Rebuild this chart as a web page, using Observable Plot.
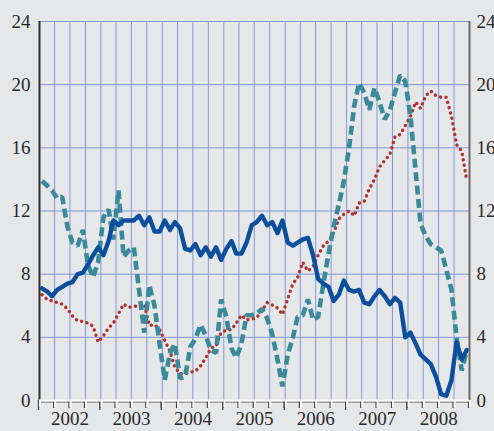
<!DOCTYPE html>
<html><head><meta charset="utf-8">
<script src="https://cdn.jsdelivr.net/npm/d3@7"></script>
<script src="https://cdn.jsdelivr.net/npm/@observablehq/plot@0.6"></script>
<style>
html,body{margin:0;padding:0;background:#e6e7e9;}
#chart{width:494px;height:431px;}
</style>
</head><body><div id="chart"></div>
<script>
// Monthly values, January 2002 – December 2008
const blueSeries = [
  7.1, 6.9, 6.6, 7.0, 7.2, 7.4, 7.5, 8.0, 8.1, 8.6, 9.2, 9.7,
  9.2, 10.1, 11.4, 11.1, 11.4, 11.4, 11.4, 11.7, 11.1, 11.6, 10.7, 10.7,
  11.4, 10.8, 11.3, 10.9, 9.6, 9.5, 9.9, 9.2, 9.7, 9.1, 9.7, 8.9,
  9.6, 10.1, 9.3, 9.3, 10.0, 11.1, 11.3, 11.7, 11.1, 11.3, 10.6, 11.4,
  10.0, 9.8, 10.0, 10.2, 10.3, 9.2, 7.7, 7.4, 7.2, 6.3, 6.7, 7.6,
  7.0, 6.9, 7.0, 6.2, 6.1, 6.6, 7.0, 6.6, 6.1, 6.5, 6.2, 4.0,
  4.3, 3.6, 2.9, 2.6, 2.3, 1.5, 0.4, 0.3, 1.3, 3.7, 2.6, 3.2
];
const tealSeries = [
  13.9, 13.6, 13.3, 12.8, 12.9, 11.0, 10.0, 9.8, 10.8, 8.6, 7.8, 8.8,
  11.6, 12.1, 10.2, 13.3, 9.1, 9.5, 9.7, 7.0, 4.3, 7.3, 6.0, 3.6,
  1.3, 3.0, 3.6, 1.4, 1.5, 3.4, 3.9, 4.8, 4.1, 3.2, 3.0, 6.4,
  5.3, 3.3, 2.7, 3.6, 5.4, 5.4, 5.5, 5.8, 5.2, 4.2, 2.6, 0.9,
  2.9, 4.0, 5.3, 5.4, 6.4, 5.1, 5.3, 7.4, 9.3, 11.0, 12.4, 13.9,
  16.0, 18.7, 20.1, 19.5, 18.4, 19.8, 18.9, 17.8, 18.4, 19.5, 20.6, 20.2,
  18.0, 14.5, 11.2, 10.4, 9.9, 9.7, 9.5, 8.3, 7.0, 4.0, 1.9, 3.2
];
const redSeries = [
  6.7, 6.4, 6.3, 6.2, 6.1, 5.8, 5.35, 5.05, 5.0, 4.9, 4.7, 3.7,
  4.1, 4.6, 4.9, 5.5, 6.1, 5.9, 5.95, 6.0, 6.1, 4.75, 4.8, 4.5,
  3.8, 3.1, 2.1, 1.7, 1.7, 1.8, 1.85, 2.2, 2.7, 3.3, 3.45, 4.3,
  4.45, 4.5, 4.9, 5.4, 5.1, 5.15, 5.25, 5.7, 6.2, 6.05, 5.85, 5.45,
  6.45, 7.4, 7.8, 8.75, 8.2, 8.5, 9.2, 9.8, 10.1, 10.6, 11.5, 11.8,
  12.0, 11.7, 12.5, 12.6, 13.4, 14.0, 14.8, 15.2, 15.6, 16.7, 16.85, 17.4,
  18.0, 18.9, 18.5, 19.3, 19.6, 19.3, 19.2, 19.2, 18.0, 16.2, 15.8, 13.9
];
const yearLabels = ["2002", "2003", "2004", "2005", "2006", "2007", "2008"];
const yTicks = [0, 4, 8, 12, 16, 20, 24];

const x0 = new Date(Date.UTC(2002, 0, 1));
const x1 = new Date(Date.UTC(2009, 0, 1));
const months = blueSeries.map((_, i) => new Date(Date.UTC(2002, i, 16)));
const quarters = d3.utcMonth.every(3).range(x0, new Date(Date.UTC(2009, 0, 2)));
const yearStarts = yearLabels.map(y => new Date(Date.UTC(+y, 0, 1)));
const yearMids = yearLabels.map(y => new Date(Date.UTC(+y, 6, 2)));

const gridColor = "#8299d8";
const font = "'Liberation Serif', 'Times New Roman', serif";

const chart = Plot.plot({
  width: 494,
  height: 431,
  marginLeft: 39,
  marginRight: 25,
  marginTop: 21,
  marginBottom: 31,
  style: {background: "#e6e7e9", fontFamily: font, overflow: "visible"},
  x: {type: "utc", domain: [x0, x1], axis: null},
  y: {domain: [0, 24], axis: null},
  marks: [
    Plot.ruleX(quarters, {stroke: gridColor, strokeWidth: 1}),
    Plot.ruleY(yTicks, {stroke: gridColor, strokeWidth: 1}),
    Plot.axisY(yTicks, {anchor: "left", tickSize: 0, tickPadding: 9, fontSize: 19, fill: "#2a2a2a", label: null}),
    Plot.axisY(yTicks, {anchor: "right", tickSize: 0, tickPadding: 7, fontSize: 19, fill: "#2a2a2a", label: null, textAnchor: "start"}),
    Plot.line(redSeries, {x: (d, i) => months[i], y: d => d, stroke: "#b3312c", strokeWidth: 3.4, strokeDasharray: "0.1,5.4", strokeLinecap: "round", strokeLinejoin: "round"}),
    Plot.line(tealSeries, {x: (d, i) => months[i], y: d => d, stroke: "#3b8a9b", strokeWidth: 4.6, strokeDasharray: "9,4.5", strokeLinecap: "butt", strokeLinejoin: "miter"}),
    Plot.line(blueSeries, {x: (d, i) => months[i], y: d => d, stroke: "#0b4f9d", strokeWidth: 4.4, strokeLinejoin: "round", strokeLinecap: "round"}),
    Plot.ruleX([x0], {stroke: "#2d2d2d", strokeWidth: 2}),
    Plot.ruleX([x1], {stroke: "#6a6a6a", strokeWidth: 2}),
    // bottom axis: shadowed white baseline and ticks
    Plot.ruleY([0], {stroke: "#555", strokeWidth: 1.2, dy: 1.5}),
    Plot.axisX(quarters, {anchor: "bottom", tickSize: 8, stroke: "#444", strokeWidth: 1.2, dx: -1, tickFormat: () => "", label: null}),
    Plot.axisX(yearStarts, {anchor: "bottom", tickSize: 10, stroke: "#444", strokeWidth: 1.2, dx: -1, tickFormat: () => "", label: null}),
    Plot.axisX(quarters, {anchor: "bottom", tickSize: 7, stroke: "#fff", strokeWidth: 1.8, dx: 0.6, tickFormat: () => "", label: null}),
    Plot.ruleY([0], {stroke: "#fff", strokeWidth: 2}),
    Plot.text(yearLabels, {x: (d, i) => yearMids[i], frameAnchor: "bottom", dy: 24, fontSize: 19, fill: "#2a2a2a", text: d => d})
  ]
});
document.getElementById("chart").appendChild(chart);
</script>
</body></html>
